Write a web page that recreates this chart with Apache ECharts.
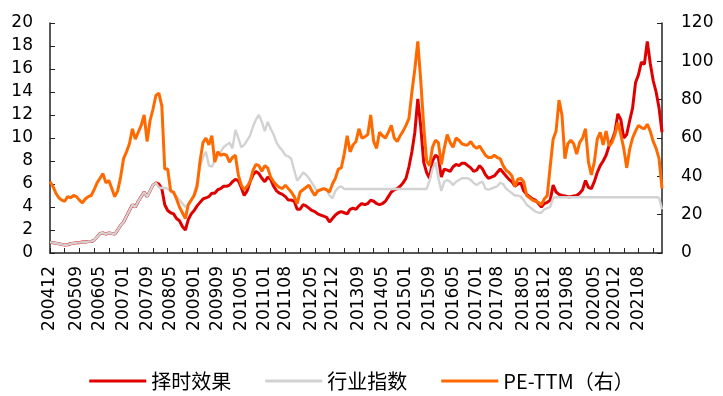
<!DOCTYPE html>
<html lang="zh-CN">
<head>
  <meta charset="UTF-8">
  <title>择时效果</title>
  <script src="https://cdn.jsdelivr.net/npm/echarts@6/dist/echarts.min.js"></script>
  <style>
    html, body { margin: 0; padding: 0; background: #fff; }
    #chart { width: 723px; height: 396px; }
  </style>
</head>
<body>
  <div id="chart"></div>
  <script>
    // 月度数据：200412 ~ 202204
    const startYear = 2004, startMonth = 12, monthCount = 209;
    // 横轴显示的标签
    const shownLabels = ['200412','200509','200605','200701','200709','200805','200901','200909','201005','201101',
      '201108','201205','201212','201309','201405','201501','201509','201605','201701','201708',
      '201805','201812','201908','202005','202012','202108'];

    // 择时效果（左轴）
    const timingValues = [
      0.93,0.9,0.85,0.8,0.75,0.7,0.72,0.8,0.85,0.9,
      0.9,0.95,0.95,1.0,1.0,1.1,1.4,1.7,1.75,1.65,
      1.75,1.7,1.65,2.0,2.4,2.7,3.2,3.7,4.2,4.0,
      4.5,4.9,5.3,4.9,5.4,5.9,6.1,6.0,5.6,4.2,
      3.7,3.5,3.4,3.0,2.8,2.3,2.0,2.9,3.4,3.7,
      4.1,4.4,4.7,4.8,4.9,5.2,5.2,5.5,5.6,5.8,
      5.8,5.9,6.2,6.4,6.3,5.7,5.0,5.4,6.2,6.8,
      7.1,6.9,6.5,6.2,6.6,6.4,5.8,5.4,5.2,5.1,
      4.9,4.6,4.6,4.5,3.8,3.8,4.2,4.1,3.9,3.7,
      3.6,3.4,3.3,3.2,3.1,2.7,3.0,3.3,3.5,3.6,
      3.5,3.4,3.8,3.9,3.8,4.1,4.3,4.2,4.3,4.6,
      4.5,4.3,4.2,4.3,4.5,4.9,5.3,5.5,5.6,5.8,
      6.1,6.5,7.5,8.8,10.5,13.4,11.0,7.9,7.0,6.5,
      8.0,8.5,8.3,6.6,7.3,7.2,7.1,7.5,7.7,7.6,
      7.8,7.8,7.6,7.4,7.1,7.2,7.6,7.3,6.8,6.5,
      6.6,6.7,7.0,7.3,7.0,6.7,6.4,6.2,5.8,6.0,
      6.1,5.4,5.1,4.9,4.7,4.6,4.3,4.0,4.3,4.4,
      4.6,5.9,5.3,5.1,5.0,4.95,4.9,4.9,4.95,5.0,
      5.2,5.5,6.3,5.7,5.6,6.2,7.0,7.6,8.0,8.5,
      9.3,9.8,10.5,12.1,11.6,10.0,10.3,11.5,12.6,14.8,
      15.5,16.6,16.4,18.4,16.5,15.0,14.0,12.6,10.5
    ];

    // 行业指数（左轴）
    const industryValues = [
      0.93,0.9,0.85,0.8,0.75,0.7,0.72,0.8,0.85,0.9,
      0.9,0.95,0.95,1.0,1.0,1.1,1.4,1.7,1.75,1.65,
      1.75,1.7,1.65,2.0,2.4,2.7,3.2,3.7,4.2,4.0,
      4.5,4.9,5.3,4.9,5.4,5.9,6.1,5.7,5.65,5.65,
      5.6,5.4,5.2,4.9,4.6,4.3,4.0,4.2,4.6,5.2,
      6.2,7.5,8.3,8.8,7.6,7.5,8.0,8.4,8.8,9.2,
      9.4,9.6,9.1,10.7,10.0,9.2,9.4,9.8,10.2,11.0,
      11.6,12.0,11.4,10.6,11.4,10.8,10.3,9.6,9.2,8.9,
      8.5,8.4,8.2,7.2,6.3,6.6,7.0,6.8,6.5,6.1,
      5.7,5.3,5.5,5.6,5.5,5.0,4.75,5.4,5.7,5.8,
      5.57,5.57,5.57,5.57,5.57,5.57,5.57,5.57,5.57,5.57,
      5.57,5.57,5.57,5.57,5.57,5.57,5.57,5.57,5.57,5.57,
      5.57,5.57,5.57,5.57,5.57,5.57,5.57,5.57,5.57,6.3,
      7.3,7.9,6.5,5.4,6.2,6.35,6.2,5.9,6.2,6.35,
      6.5,6.5,6.5,6.35,6.1,5.9,6.1,6.2,5.6,5.5,
      5.6,5.7,5.8,6.1,6.0,5.6,5.4,5.2,5.0,5.0,
      4.9,4.6,4.2,4.0,3.8,3.6,3.5,3.5,3.8,3.9,
      4.0,4.8,4.85,4.85,4.85,4.85,4.85,4.85,4.85,4.85,
      4.85,4.85,4.85,4.85,4.85,4.85,4.85,4.85,4.85,4.85,
      4.85,4.85,4.85,4.85,4.85,4.85,4.85,4.85,4.85,4.85,
      4.85,4.85,4.85,4.85,4.85,4.85,4.85,4.8,3.8
    ];

    // PE-TTM（右轴）
    const peValues = [
      37.2,34.8,31.2,28.8,27.6,27.0,29.4,28.8,30.0,29.4,
      27.6,26.1,28.2,29.4,30.0,33.0,36.6,39.0,41.4,36.6,
      37.8,33.6,29.4,32.4,39.6,49.2,52.8,57.0,64.8,59.4,
      63.0,66.6,72.0,58.2,69.0,75.0,82.2,83.4,76.8,43.8,
      43.8,32.4,31.8,28.2,24.0,21.0,18.0,25.2,27.6,30.0,
      34.8,48.0,57.6,60.0,56.4,61.2,47.4,52.8,51.0,51.6,
      51.0,47.4,49.8,51.0,40.8,35.4,33.0,34.8,37.2,43.2,
      46.2,45.6,42.6,45.6,44.4,39.6,37.2,35.4,34.2,33.6,
      35.4,33.6,31.8,29.4,25.8,31.8,33.0,34.2,35.4,32.4,
      30.0,32.4,33.0,33.6,33.0,31.8,36.0,39.0,43.8,44.4,
      51.6,61.2,52.8,56.4,58.2,64.8,60.0,60.6,61.8,72.0,
      58.2,54.6,63.0,61.2,60.0,63.0,66.6,60.0,58.2,61.2,
      63.6,66.6,70.2,84.0,96.0,110.4,90.0,66.6,48.0,45.6,
      55.2,58.8,57.6,46.2,54.6,61.8,57.6,55.2,60.0,58.8,
      57.0,56.4,56.4,58.2,55.8,54.6,55.8,53.4,51.0,49.8,
      49.8,51.0,49.8,49.2,45.6,43.2,42.0,40.2,34.8,38.4,
      39.0,37.2,30.0,28.8,27.6,27.0,26.4,25.2,28.2,30.0,
      45.0,59.4,63.6,79.8,72.0,49.2,57.0,58.8,57.0,51.6,
      57.6,60.0,64.8,47.4,40.8,47.4,59.4,63.0,56.4,63.6,
      55.8,57.6,61.8,68.0,61.8,54.6,44.4,54.0,60.0,63.6,
      66.6,65.4,64.8,67.2,63.6,58.2,54.6,49.2,33.6
    ];

    const months = [];
    for (let i = 0; i < monthCount; i++) {
      const t = startMonth - 1 + i;
      const y = startYear + Math.floor(t / 12);
      const m = (t % 12) + 1;
      months.push(y + (m < 10 ? '0' : '') + m);
    }

    const axisColor = '#222';
    const tickFont = { color: '#000', fontSize: 17, fontFamily: 'DejaVu Sans' };

    const chart = echarts.init(document.getElementById('chart'), null, { renderer: 'canvas' });
    chart.setOption({
      animation: false,
      grid: { left: 50, right: 61, top: 23, bottom: 143, containLabel: false },
      legend: {
        data: ['择时效果', '行业指数', 'PE-TTM（右）'],
        left: 'center',
        top: 366,
        icon: 'rect',
        itemWidth: 57,
        itemHeight: 3,
        itemGap: 34,
        textStyle: { color: '#000', fontSize: 20, fontFamily: 'Noto Sans CJK SC' }
      },
      xAxis: {
        type: 'category',
        data: months,
        boundaryGap: false,
        axisLine: { lineStyle: { color: axisColor, width: 1.5 } },
        axisTick: { inside: true, length: 5, interval: 4, lineStyle: { color: axisColor } },
        axisLabel: Object.assign({
          rotate: 90,
          margin: 13,
          interval: (idx, val) => shownLabels.indexOf(val) >= 0
        }, tickFont),
        splitLine: { show: false }
      },
      yAxis: [
        {
          type: 'value', min: 0, max: 20, interval: 2,
          axisLine: { show: true, lineStyle: { color: axisColor, width: 1.5 } },
          axisTick: { show: true, inside: true, length: 5, lineStyle: { color: axisColor } },
          axisLabel: Object.assign({ margin: 17 }, tickFont),
          splitLine: { show: false }
        },
        {
          type: 'value', min: 0, max: 120, interval: 20, position: 'right',
          axisLine: { show: true, lineStyle: { color: axisColor, width: 1.5 } },
          axisTick: { show: true, inside: true, length: 5, lineStyle: { color: axisColor } },
          axisLabel: Object.assign({ margin: 19 }, tickFont),
          splitLine: { show: false }
        }
      ],
      series: [
        {
          name: '择时效果', type: 'line', yAxisIndex: 0, data: timingValues,
          symbol: 'none', lineStyle: { color: '#E00000', width: 3 }, itemStyle: { color: '#E00000' }
        },
        {
          name: '行业指数', type: 'line', yAxisIndex: 0, data: industryValues,
          symbol: 'none', lineStyle: { color: '#D2D2D2', width: 2.4 }, itemStyle: { color: '#D2D2D2' }
        },
        {
          name: 'PE-TTM（右）', type: 'line', yAxisIndex: 1, data: peValues,
          symbol: 'none', lineStyle: { color: '#FF6A00', width: 3 }, itemStyle: { color: '#FF6A00' }
        }
      ]
    });
  </script>
</body>
</html>
